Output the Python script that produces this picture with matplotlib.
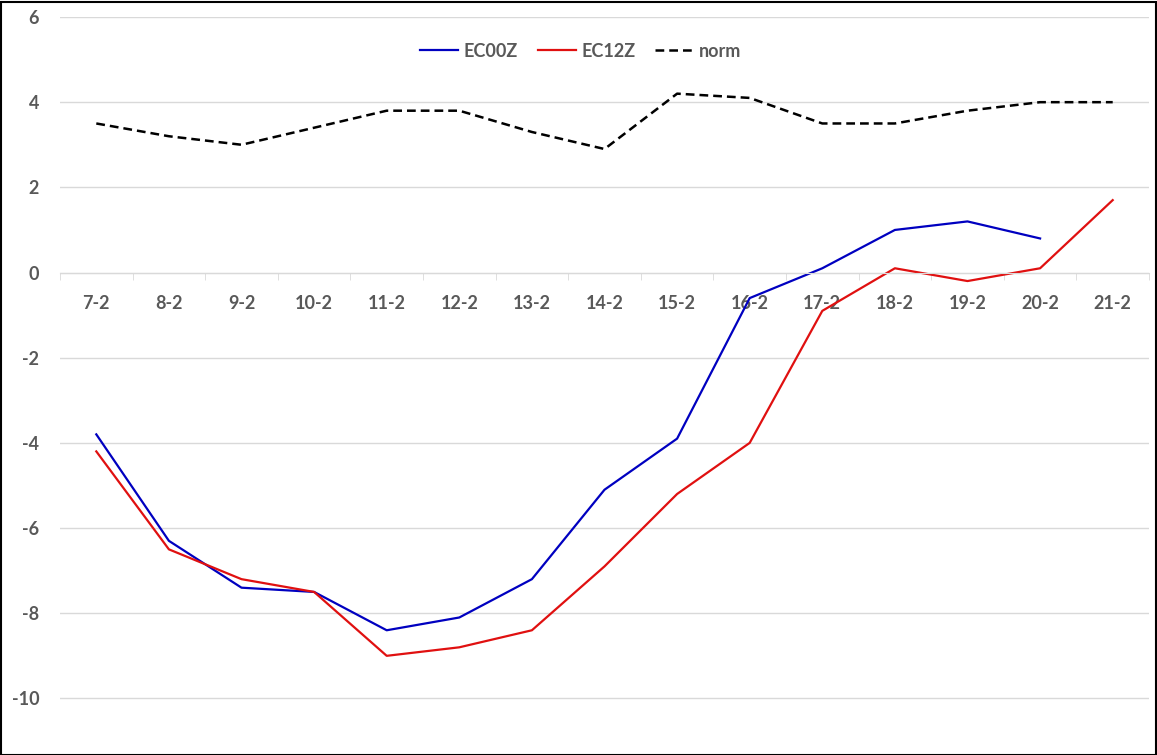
import matplotlib
matplotlib.use("Agg")
import matplotlib.pyplot as plt
from matplotlib.patches import Rectangle

# data
dates = ["7-2", "8-2", "9-2", "10-2", "11-2", "12-2", "13-2", "14-2",
         "15-2", "16-2", "17-2", "18-2", "19-2", "20-2", "21-2"]
ec00z = [-3.8, -6.3, -7.4, -7.5, -8.4, -8.1, -7.2, -5.1, -3.9, -0.6,
         0.1, 1.0, 1.2, 0.8]
ec12z = [-4.2, -6.5, -7.2, -7.5, -9.0, -8.8, -8.4, -6.9, -5.2, -4.0,
         -0.9, 0.1, -0.2, 0.1, 1.7]
norm = [3.5, 3.2, 3.0, 3.4, 3.8, 3.8, 3.3, 2.9, 4.2, 4.1, 3.5, 3.5,
        3.8, 4.0, 4.0]
yticks = [-10, -8, -6, -4, -2, 0, 2, 4, 6]

TXT = "#595959"
FS = 13
plt.rcParams["font.family"] = ["Lato", "DejaVu Sans"]

W, H = 1157, 755
fig = plt.figure(figsize=(W / 100, H / 100), dpi=100)
# plot area in pixels: left 60, right 1149, top 17 (y=6), bottom 741 (y=-11)
ax = fig.add_axes([60 / W, 1 - 741 / H, (1149 - 60) / W, (741 - 17) / H])

x = list(range(len(dates)))
ax.plot(x[:len(ec00z)], ec00z, color="#0000C0", lw=1.6, label="EC00Z")
ax.plot(x, ec12z, color="#E01010", lw=1.6, label="EC12Z")
ax.plot(x, norm, color="black", lw=1.8, ls=(0, (3.5, 2)), label="norm")

ax.set_xlim(-0.5, len(dates) - 0.5)
ax.set_ylim(-11, 6)
ax.set_yticks(yticks)
ax.set_yticklabels([str(v) for v in yticks], fontsize=FS, fontweight="bold", color=TXT)
ax.grid(axis="y", color="#D9D9D9", lw=1)
ax.set_axisbelow(True)
ax.tick_params(axis="y", length=0, pad=15)

for s in ["top", "right", "left"]:
    ax.spines[s].set_visible(False)
ax.spines["bottom"].set_position(("data", 0))
ax.spines["bottom"].set_color("#D9D9D9")

# labels at category centres, tick marks at boundaries
ax.set_xticks(x)
ax.set_xticklabels(dates, fontsize=FS, fontweight="bold", color=TXT)
ax.tick_params(axis="x", which="major", length=0, pad=16)
ax.set_xticks([i - 0.5 for i in range(len(dates) + 1)], minor=True)
ax.tick_params(axis="x", which="minor", length=5, color="#D9D9D9", direction="out")

ax.legend(loc="upper center", bbox_to_anchor=(0.478, 0.987), ncol=3, frameon=False,
          prop={"size": FS, "weight": "bold"}, labelcolor=TXT,
          handlelength=2.1, handletextpad=0.3, columnspacing=1.1)

fig.patches.append(Rectangle((0.5 / W, 0.5 / H), 1 - 2 / W, 1 - 2 / H,
                             transform=fig.transFigure, fill=False,
                             edgecolor="black", lw=1.5))

fig.savefig("out.png", dpi=100)
